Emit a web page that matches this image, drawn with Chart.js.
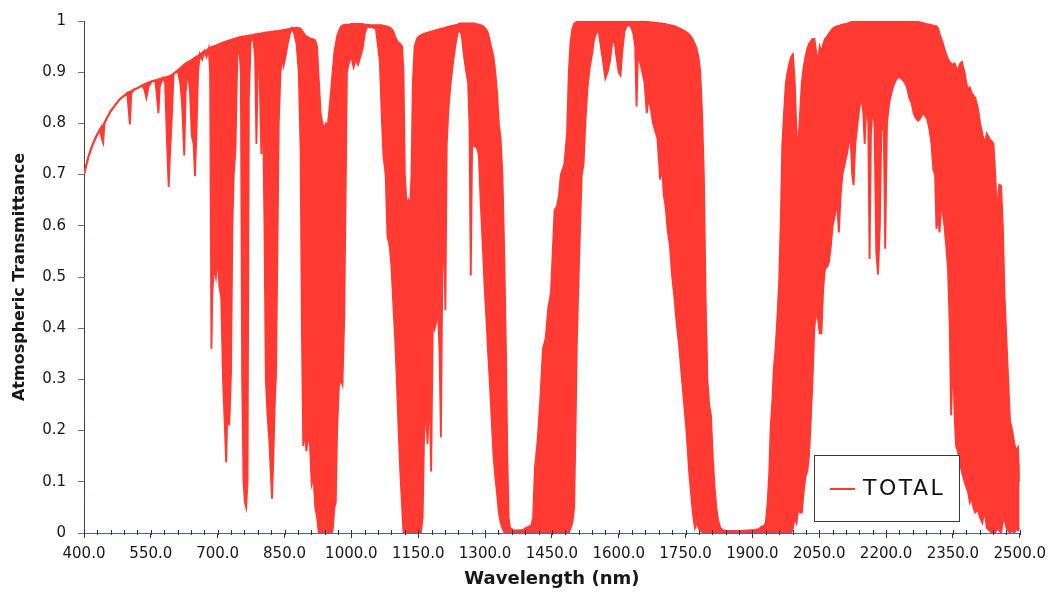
<!DOCTYPE html>
<html>
<head>
<meta charset="utf-8">
<title>Atmospheric Transmittance</title>
<script src="https://cdn.jsdelivr.net/npm/chart.js@4.4.1/dist/chart.umd.min.js"></script>
<style>
  html, body { margin: 0; padding: 0; background: #ffffff; }
  canvas { display: block; }
</style>
</head>
<body>
<canvas id="chart" width="1053" height="592"></canvas>
<script>
// Atmospheric transmittance, 400–2500 nm.
// Each row: [wavelength nm, highest transmittance in the bin, lowest transmittance in the bin]

const visible = [
  [400,.700,.700],[405,.718,.718],[410,.735,.735],[415,.748,.748],[420,.760,.760],
  [425,.770,.770],[430,.779,.779],[436,.788,.788],[440,.795,.770],[443,.797,.762],
  [446,.801,.801],[450,.808,.808],[460,.824,.824],[470,.836,.836],[480,.847,.847],
  [490,.854,.854],[497,.859,.859],[500,.861,.830],[503,.862,.798],[506,.863,.858],
  [512,.866,.866],[520,.869,.869],[530,.874,.874],[535,.876,.868],[540,.878,.850],
  [545,.880,.872],[552,.882,.882],[560,.884,.884],[564,.885,.850],[567,.886,.820],
  [570,.887,.872],[577,.889,.889],[582,.890,.880],[586,.891,.770],[590,.892,.676],
  [593,.893,.740],[597,.895,.810],[601,.897,.897],[610,.903,.903],[616,.908,.880],
  [620,.911,.840],[625,.915,.737],[628,.917,.860],[633,.920,.905],[638,.922,.860],
  [642,.924,.775],[646,.927,.760],[649,.929,.697],[652,.930,.770],[656,.932,.900],
  [660,.935,.935],[665,.938,.925],[670,.941,.941],[675,.943,.930],[680,.946,.946]
];

const band720 = [
  [683,.948,.900],[686,.949,.360],[688,.950,.470],[692,.951,.520],[696,.952,.500],
  [700,.954,.540],[704,.955,.480],[708,.957,.460],[712,.958,.300],[716,.959,.210],
  [719,.960,.138],[722,.961,.240],[726,.962,.210],[730,.963,.316],[733,.964,.600],
  [736,.965,.700],[740,.966,.750],[744,.967,.930],[748,.968,.955],[752,.969,.900],
  [755,.970,.300],[758,.970,.100],[761,.970,.060],[764,.971,.050],[767,.971,.100],
  [770,.972,.850],[774,.972,.960],[780,.973,.965],[784,.974,.930],[787,.974,.760],
  [790,.975,.920],[794,.975,.900],[798,.976,.740],[801,.976,.880],[805,.977,.600],
  [808,.977,.300],[812,.978,.228],[816,.978,.180],[819,.979,.120],[822,.979,.067],
  [825,.979,.150],[828,.980,.250],[831,.980,.310],[834,.980,.550],[837,.981,.800],
  [841,.981,.900],[845,.982,.930],[848,.982,.913],[852,.983,.930],[857,.984,.955],
  [862,.985,.975],[867,.986,.986],[872,.986,.975],[877,.987,.955],[882,.986,.900],
  [886,.985,.750],[889,.982,.400]
];

const band940 = [
  [892,.978,.170],[896,.972,.200],[899,.970,.160],[903,.968,.190],[907,.966,.175],
  [911,.965,.096],[915,.964,.110],[919,.962,.050],[923,.950,.030],[927,.884,.000],
  [931,.820,.000],[935,.800,.000],[939,.790,.000],[943,.800,.000],[947,.795,.000],
  [951,.830,.000],[955,.870,.000],[958,.900,.005],[962,.940,.050],[965,.955,.060],
  [968,.970,.200],[972,.980,.287],[976,.988,.300],[980,.991,.290],[984,.993,.420],
  [987,.993,.650],[990,.993,.900],[995,.993,.920],[1000,.994,.930]
];

const band1130 = [
  [1005,.994,.910],[1010,.994,.925],[1015,.994,.915],[1020,.994,.930],[1025,.994,.945],
  [1030,.993,.975],[1035,.993,.988],[1045,.992,.988],[1055,.992,.985],[1060,.992,.950],
  [1064,.992,.920],[1068,.992,.820],[1072,.991,.736],[1077,.990,.700],[1081,.989,.580],
  [1086,.987,.560],[1090,.985,.520],[1094,.980,.450],[1098,.970,.384],[1102,.962,.300],
  [1106,.958,.200],[1110,.955,.116],[1114,.950,.050],[1117,.900,.000],[1120,.700,.000],
  [1124,.640,.000],[1128,.650,.000],[1132,.640,.000],[1135,.700,.000],[1138,.880,.000],
  [1142,.950,.000],[1147,.965,.000],[1152,.970,.000],[1156,.972,.000],[1160,.974,.030]
];

const window1250 = [
  [1163,.975,.180],[1167,.976,.250],[1171,.977,.174],[1175,.978,.300],[1179,.979,.120],
  [1183,.980,.430],[1187,.981,.400],[1190,.982,.410],[1194,.983,.450],[1198,.984,.350],
  [1201,.985,.187],[1204,.985,.500],[1208,.986,.600],[1211,.987,.435],[1214,.988,.760],
  [1218,.989,.830],[1223,.990,.880],[1228,.991,.917],[1233,.992,.950],[1238,.993,.975],
  [1243,.995,.985],[1248,.995,.970],[1253,.995,.930],[1258,.995,.900],[1262,.995,.880],
  [1265,.995,.800],[1268,.995,.503],[1271,.995,.760],[1276,.995,.755],[1281,.994,.755],
  [1286,.993,.740],[1290,.992,.650],[1295,.990,.560],[1299,.987,.480],[1303,.983,.420],
  [1307,.975,.350],[1311,.960,.290],[1315,.945,.220],[1319,.930,.150],[1323,.900,.110],
  [1327,.860,.077],[1331,.800,.040],[1335,.770,.020],[1339,.700,.010],[1343,.550,.002],
  [1347,.350,.000],[1350,.150,.000],[1353,.030,.000]
];

const band1400 = [
  [1356,.010,.000],[1365,.005,.000],[1375,.005,.000],[1385,.006,.000],[1392,.010,.000],
  [1398,.012,.002],[1404,.015,.002],[1408,.030,.000],[1412,.128,.000],[1418,.180,.000],
  [1424,.260,.000],[1430,.360,.000],[1436,.380,.000],[1442,.440,.000],[1448,.470,.000],
  [1452,.550,.000],[1456,.630,.000],[1462,.640,.000],[1466,.660,.000],[1470,.700,.000],
  [1478,.720,.000],[1484,.780,.000],[1488,.900,.000],[1492,.960,.010],[1496,.985,.020],
  [1500,.995,.050]
];

const window1650 = [
  [1503,.997,.200],[1506,.998,.370],[1510,.998,.500],[1513,.999,.590],[1517,.999,.700],
  [1521,.999,.720],[1525,.999,.800],[1530,.999,.870],[1535,1.00,.910],[1540,1.00,.935],
  [1545,1.00,.965],[1550,1.00,.978],[1555,1.00,.980],[1560,1.00,.950],[1565,1.00,.920],
  [1570,1.00,.888],[1575,1.00,.900],[1580,1.00,.920],[1585,1.00,.955],[1590,1.00,.965],
  [1595,1.00,.930],[1600,1.00,.900],[1604,1.00,.894],[1608,1.00,.940],[1613,1.00,.980],
  [1618,1.00,.990],[1623,1.00,.992],[1628,1.00,.988],[1633,1.00,.975],[1637,1.00,.950],
  [1640,1.00,.833],[1643,1.00,.930],[1648,.999,.920],[1653,.999,.900],[1658,.999,.880],
  [1663,.998,.820],[1667,.998,.850],[1672,.997,.830],[1677,.997,.800],[1682,.996,.785],
  [1687,.996,.770],[1693,.995,.690],[1697,.995,.720],[1701,.994,.660],[1705,.994,.640],
  [1710,.993,.590],[1715,.992,.560],[1720,.991,.500],[1725,.990,.460],[1730,.988,.410],
  [1735,.986,.370],[1740,.984,.320],[1745,.982,.270],[1752,.978,.200],[1758,.974,.120],
  [1763,.968,.070],[1767,.962,.035],[1771,.955,.010],[1775,.945,.020],[1779,.930,.010],
  [1783,.900,.005],[1787,.820,.002],[1791,.700,.000],[1795,.460,.000],[1799,.300,.000],
  [1803,.250,.000],[1807,.230,.000],[1811,.150,.000],[1815,.090,.000],[1819,.050,.000],
  [1823,.025,.000],[1828,.010,.000]
];

const band1900 = [
  [1835,.005,.000],[1845,.004,.000],[1860,.004,.000],[1875,.004,.000],[1890,.005,.000],
  [1905,.006,.000],[1915,.008,.000],[1920,.012,.002],[1926,.014,.002],[1930,.020,.000],
  [1934,.057,.000],[1938,.120,.000],[1941,.206,.000],[1945,.260,.000],[1948,.320,.000],
  [1952,.360,.000],[1956,.420,.000],[1960,.490,.000],[1964,.620,.000],[1967,.755,.000],
  [1971,.820,.000],[1975,.878,.000],[1979,.900,.000],[1983,.917,.000],[1987,.930,.000],
  [1991,.935,.010],[1995,.880,.030],[1999,.780,.020],[2003,.760,.050]
];

const window2200 = [
  [2007,.820,.040],[2011,.880,.040],[2015,.910,.080],[2019,.930,.110],[2023,.945,.120],
  [2027,.955,.150],[2031,.960,.220],[2035,.965,.300],[2039,.965,.400],[2043,.940,.430],
  [2047,.920,.420],[2051,.950,.390],[2055,.940,.390],[2059,.955,.480],[2063,.965,.516],
  [2068,.970,.520],[2072,.975,.530],[2076,.980,.560],[2080,.985,.600],[2085,.988,.620],
  [2090,.990,.650],[2094,.990,.587],[2098,.992,.660],[2102,.993,.700],[2107,.994,.720],
  [2112,.995,.740],[2116,.996,.760],[2120,.997,.780],[2124,.998,.700],[2127,.998,.680],
  [2131,.999,.760],[2136,.999,.800],[2140,1.00,.830],[2145,1.00,.850],[2149,1.00,.820],
  [2152,1.00,.760],[2156,1.00,.850],[2160,1.00,.800],[2163,1.00,.535],[2166,1.00,.780],
  [2170,1.00,.830],[2174,1.00,.800],[2178,1.00,.550],[2182,1.00,.505],[2186,1.00,.600],
  [2190,1.00,.820],[2195,1.00,.780],[2198,1.00,.555],[2202,1.00,.800],[2207,1.00,.840],
  [2212,1.00,.860],[2217,1.00,.875],[2222,1.00,.885],[2227,1.00,.890],[2232,1.00,.890],
  [2237,1.00,.885],[2242,1.00,.880],[2247,1.00,.870],[2252,1.00,.850],[2257,.999,.840],
  [2262,.999,.820],[2267,.998,.810],[2272,.998,.805],[2277,.997,.810],[2282,.996,.820],
  [2287,.995,.815],[2292,.994,.810],[2297,.993,.790],[2302,.992,.760],[2306,.991,.710],
  [2310,.990,.700],[2313,.990,.594],[2317,.985,.620],[2320,.975,.587],[2324,.965,.650],
  [2328,.955,.620],[2331,.945,.600],[2335,.935,.560],[2339,.925,.516],[2343,.920,.400],
  [2346,.917,.230],[2350,.915,.350],[2354,.917,.225],[2357,.910,.170],[2361,.900,.160],
  [2365,.915,.140],[2370,.920,.120],[2376,.900,.100],[2380,.880,.090],[2384,.865,.080],
  [2388,.870,.060],[2392,.860,.070],[2396,.855,.050],[2400,.850,.040],[2406,.830,.045],
  [2411,.800,.030],[2416,.780,.020],[2421,.760,.045],[2426,.780,.010],[2432,.770,.005],
  [2437,.765,.000],[2441,.760,.005],[2445,.700,.000],[2449,.626,.010],[2454,.680,.005],
  [2458,.678,.000],[2462,.600,.020],[2466,.460,.030],[2470,.380,.010],[2474,.300,.005],
  [2478,.220,.000],[2483,.200,.005],[2488,.174,.000],[2492,.160,.010],[2496,.167,.005],
  [2500,.100,.010]
];

const seriesName = 'TOTAL';
const xTickLabels = ['400.0','550.0','700.0','850.0','1000.0','1150.0','1300.0','1450.0',
  '1600.0','1750.0','1900.0','2050.0','2200.0','2350.0','2500.0'];
const yTickLabels = ['0','0.1','0.2','0.3','0.4','0.5','0.6','0.7','0.8','0.9','1'];

const spectrum = [].concat(visible, band720, band940, band1130, window1250,
  band1400, window1650, band1900, window2200);
const upper = spectrum.map(r => ({ x: r[0], y: r[1] }));
const lower = spectrum.map(r => ({ x: r[0], y: r[2] }));

const RED = 'rgb(255,58,50)';
const TEXT = '#181818';
Chart.defaults.font.family = '"DejaVu Sans", "Liberation Sans", sans-serif';

// small tick marks every 30 nm along the wavelength axis
const minorTicks = {
  id: 'minorTicks',
  afterDraw(chart) {
    const { ctx, chartArea, scales } = chart;
    const xs = scales.x;
    ctx.save();
    ctx.strokeStyle = '#333';
    ctx.lineWidth = 1;
    for (let v = xs.min; v <= xs.max + 0.001; v += 30) {
      const px = Math.round(xs.getPixelForValue(v)) + 0.5;
      ctx.beginPath();
      ctx.moveTo(px, chartArea.bottom - 3);
      ctx.lineTo(px, chartArea.bottom + 2);
      ctx.stroke();
    }
    ctx.restore();
  }
};

// boxed legend in the lower right of the plot
const legendBox = {
  id: 'legendBox',
  afterDraw(chart) {
    const { ctx, chartArea } = chart;
    const ds = chart.data.datasets[0];
    const w = 145, h = 66;
    const x = Math.round(chartArea.right - 61 - w);
    const y = Math.round(chartArea.bottom - 12 - h);
    ctx.save();
    ctx.fillStyle = '#ffffff';
    ctx.fillRect(x, y, w, h);
    ctx.strokeStyle = '#3a3a3a';
    ctx.lineWidth = 1;
    ctx.strokeRect(x + 0.5, y + 0.5, w, h);
    ctx.strokeStyle = ds.borderColor;
    ctx.lineWidth = 2;
    ctx.beginPath();
    ctx.moveTo(x + 16, y + 34);
    ctx.lineTo(x + 41, y + 34);
    ctx.stroke();
    ctx.fillStyle = '#111';
    ctx.font = '22px "DejaVu Sans", sans-serif';
    if ('letterSpacing' in ctx) ctx.letterSpacing = '2.5px';
    ctx.textBaseline = 'middle';
    ctx.textAlign = 'left';
    ctx.fillText(ds.label, x + 49, y + 34);
    ctx.restore();
  }
};

new Chart(document.getElementById('chart'), {
  type: 'line',
  data: {
    datasets: [
      { label: seriesName, data: upper, borderColor: RED, borderWidth: 1.9,
        pointRadius: 0, tension: 0, fill: false },
      { label: seriesName + ' min', data: lower, borderColor: RED, borderWidth: 1.9,
        pointRadius: 0, tension: 0, fill: '-1', backgroundColor: RED }
    ]
  },
  options: {
    responsive: false,
    animation: false,
    events: [],
    layout: { padding: { top: 17, right: 31, left: 0, bottom: 0 } },
    plugins: { legend: { display: false }, tooltip: { enabled: false } },
    scales: {
      x: {
        type: 'linear', min: 400, max: 2500,
        afterFit: s => { s.height = 59; },
        ticks: {
          stepSize: 150, autoSkip: false, maxRotation: 0, padding: 7,
          color: TEXT, font: { size: 15 },
          callback: (v, i) => xTickLabels[i]
        },
        grid: { drawOnChartArea: false, drawTicks: true, tickLength: 5, color: '#333' },
        border: { display: true, color: 'rgb(70,100,170)', width: 1 },
        title: { display: true, text: 'Wavelength (nm)', color: TEXT,
          font: { size: 18, weight: 'bold' }, padding: { top: 0, bottom: 2 } }
      },
      y: {
        min: 0, max: 1,
        afterFit: s => { s.width = 84; },
        ticks: {
          stepSize: 0.1, padding: 12, color: TEXT, font: { size: 15 },
          callback: (v, i) => yTickLabels[i]
        },
        grid: { drawOnChartArea: false, drawTicks: true, tickLength: 6, color: 'rgb(90,120,175)' },
        border: { display: true, color: '#444', width: 1 },
        title: { display: true, text: 'Atmospheric Transmittance', color: TEXT,
          font: { size: 16, weight: 'bold' }, padding: { top: 10, bottom: 0 } }
      }
    }
  },
  plugins: [minorTicks, legendBox]
});
</script>
</body>
</html>
